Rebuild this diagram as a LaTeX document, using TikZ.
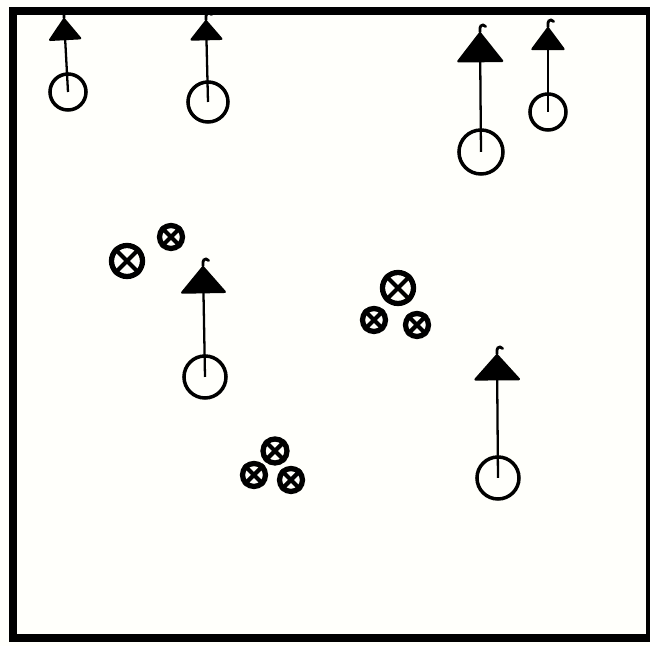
\documentclass[tikz,border=0pt]{standalone}
\usepackage{tikz}
\usetikzlibrary{arrows.meta}
\definecolor{paper}{rgb}{1,1,0.985}

\begin{document}
\begin{tikzpicture}[
        x=0.01cm, y=-0.01cm,
        player/.style={circle, draw, line width=1pt, inner sep=0pt,
                       minimum size=#1},
        ball/.style={circle, draw, line width=1.5pt, inner sep=0pt,
                     minimum size=#1},
        run/.style 2 args={line width=0.65pt,
                           -{Triangle[width=#1, length=#2, round]}},
        hook/.style={line width=0.8pt, line cap=round},
        frame/.style={line width=2pt}
    ]

    %% paper and frame
    \fill[paper] (0,0) rectangle (650,646);
    \useasboundingbox (0,0) rectangle (650,646);
    \draw[frame] (13,11) rectangle (650,638);

    %% players with their runs
    \node[player=0.36cm] (p1) at (68,92)  {};
    \node[player=0.40cm] (p2) at (208,102) {};
    \node[player=0.44cm] (p3) at (481,152) {};
    \node[player=0.36cm] (p4) at (548,112) {};
    \node[player=0.42cm] (p5) at (205,377) {};
    \node[player=0.42cm] (p6) at (498,478) {};

    \coordinate (t1) at (64,18);
    \coordinate (t2) at (206,20);
    \coordinate (t3) at (480,32);
    \coordinate (t4) at (548,27);
    \coordinate (t5) at (203,266);
    \coordinate (t6) at (497,354);

    \draw[run={0.34cm}{0.23cm}] (p1.center) -- (t1);
    \draw[run={0.34cm}{0.21cm}] (p2.center) -- (t2);
    \draw[run={0.48cm}{0.31cm}] (p3.center) -- (t3);
    \draw[run={0.35cm}{0.24cm}] (p4.center) -- (t4);
    \draw[run={0.47cm}{0.28cm}] (p5.center) -- (t5);
    \draw[run={0.48cm}{0.27cm}] (p6.center) -- (t6);

    %% little pen hooks on the tips
    \foreach \t in {t1,t2,t3,t4,t5,t6}
        \draw[hook] (\t) -- ++(0,-4) arc[start angle=180, end angle=330, radius=3];

    %% balls
    \node[ball=0.31cm] (b1) at (127,261) {};
    \node[ball=0.23cm] (b2) at (171,237) {};
    \node[ball=0.31cm] (b3) at (398,288) {};
    \node[ball=0.23cm] (b4) at (374,320) {};
    \node[ball=0.23cm] (b5) at (417,325) {};
    \node[ball=0.24cm] (b6) at (275,451) {};
    \node[ball=0.23cm] (b7) at (254,475) {};
    \node[ball=0.23cm] (b8) at (291,480) {};

    \foreach \b in {b1,b2,b3,b4,b5,b6,b7,b8}
        \draw[line width=1.2pt] (\b.north west) -- (\b.south east)
                                (\b.north east) -- (\b.south west);

\end{tikzpicture}
\end{document}
